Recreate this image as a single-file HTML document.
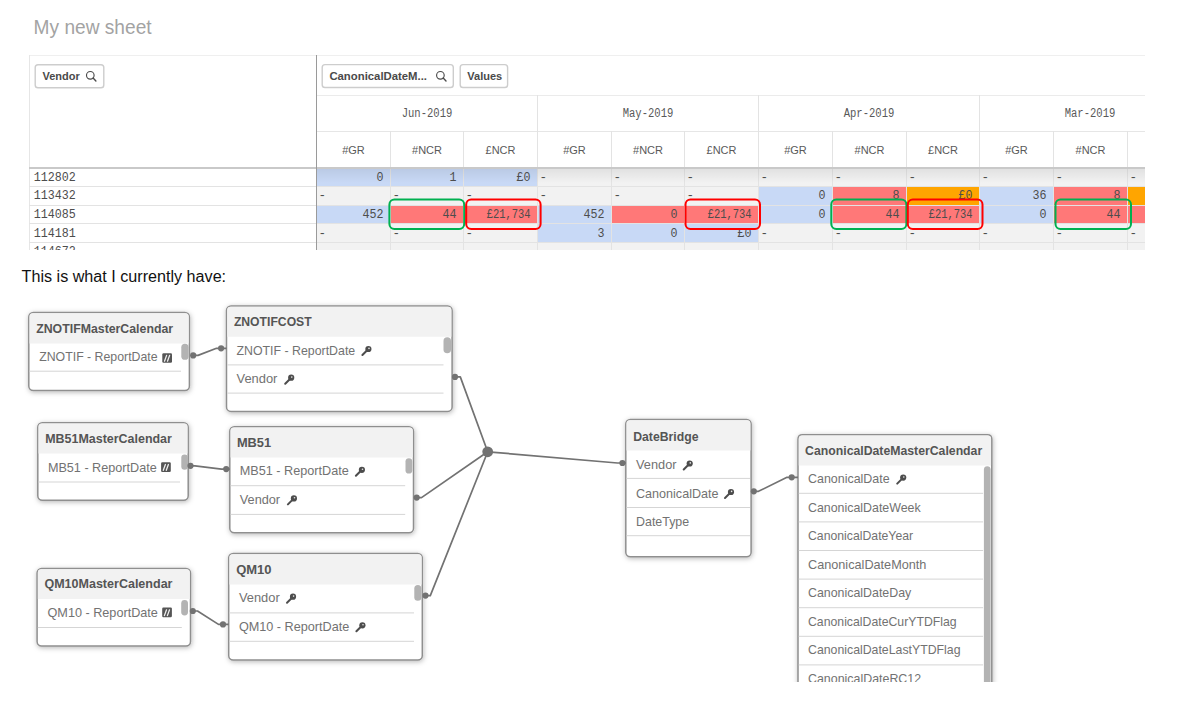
<!DOCTYPE html>
<html><head><meta charset="utf-8"><title>My new sheet</title>
<style>
html,body{margin:0;padding:0;background:#fff;}
body{width:1183px;height:709px;position:relative;overflow:hidden;font-family:"Liberation Sans", sans-serif;}
.t{position:absolute;white-space:nowrap;}
svg{position:absolute;left:0;top:0;}
</style></head>
<body>
<svg width="1183" height="709" viewBox="0 0 1183 709">
<text x="33.6" y="33.7" font-family='"Liberation Sans", sans-serif' font-size="20" fill="#a3a3a3" textLength="118" lengthAdjust="spacingAndGlyphs">My new sheet</text>
<defs><clipPath id="tc"><rect x="0" y="0" width="1145" height="250"/></clipPath></defs>
<g id="pivot" clip-path="url(#tc)">
<rect x="29" y="55" width="1116" height="1" fill="#efefef"/>
<rect x="29" y="55" width="1" height="195" fill="#e6e6e6"/>
<rect x="35.2" y="64.7" width="68.6" height="23.1" rx="2.8" fill="#fff" stroke="#cdcdcd" stroke-width="1.4"/>
<text x="42.5" y="79.8" font-family='"Liberation Sans", sans-serif' font-size="11" font-weight="bold" fill="#4a4a4a">Vendor</text>
<circle cx="90.3" cy="75.3" r="3.8" fill="none" stroke="#4a4a4a" stroke-width="1.15"/>
<line x1="93.1" y1="78.1" x2="95.89999999999999" y2="80.89999999999999" stroke="#4a4a4a" stroke-width="1.4" stroke-linecap="round"/>
<rect x="322.2" y="64.6" width="131.1" height="22.9" rx="2.8" fill="#fff" stroke="#cdcdcd" stroke-width="1.4"/>
<text x="329.4" y="79.7" font-family='"Liberation Sans", sans-serif' font-size="11" font-weight="bold" fill="#4a4a4a" textLength="97.6" lengthAdjust="spacingAndGlyphs">CanonicalDateM...</text>
<circle cx="440.4" cy="75.3" r="3.8" fill="none" stroke="#4a4a4a" stroke-width="1.15"/>
<line x1="443.2" y1="78.1" x2="446.0" y2="80.89999999999999" stroke="#4a4a4a" stroke-width="1.4" stroke-linecap="round"/>
<rect x="460.2" y="64.6" width="47.4" height="22.9" rx="2.8" fill="#fff" stroke="#cdcdcd" stroke-width="1.4"/>
<text x="467.3" y="79.7" font-family='"Liberation Sans", sans-serif' font-size="11" font-weight="bold" fill="#4a4a4a">Values</text>
<rect x="316" y="95" width="829" height="1" fill="#ebebeb"/>
<rect x="316" y="131" width="829" height="1" fill="#e6e6e6"/>
<rect x="317" y="169" width="828" height="81" fill="#f2f2f2"/>
<rect x="317" y="169" width="73" height="18" fill="#c8d9f6"/>
<rect x="391" y="169" width="72" height="18" fill="#c8d9f6"/>
<rect x="464" y="169" width="73" height="18" fill="#c8d9f6"/>
<rect x="759" y="187" width="73" height="19" fill="#c8d9f6"/>
<rect x="833" y="187" width="73" height="19" fill="#ff7878"/>
<rect x="907" y="187" width="72" height="19" fill="#ffa500"/>
<rect x="980" y="187" width="73" height="19" fill="#c8d9f6"/>
<rect x="1054" y="187" width="73" height="19" fill="#ff7878"/>
<rect x="1128" y="187" width="17" height="19" fill="#ffa500"/>
<rect x="317" y="206" width="73" height="18" fill="#c8d9f6"/>
<rect x="391" y="206" width="72" height="18" fill="#ff7878"/>
<rect x="464" y="206" width="73" height="18" fill="#ff7878"/>
<rect x="538" y="206" width="73" height="18" fill="#c8d9f6"/>
<rect x="612" y="206" width="72" height="18" fill="#ff7878"/>
<rect x="685" y="206" width="73" height="18" fill="#ff7878"/>
<rect x="759" y="206" width="73" height="18" fill="#c8d9f6"/>
<rect x="833" y="206" width="73" height="18" fill="#ff7878"/>
<rect x="907" y="206" width="72" height="18" fill="#ff7878"/>
<rect x="980" y="206" width="73" height="18" fill="#c8d9f6"/>
<rect x="1054" y="206" width="73" height="18" fill="#ff7878"/>
<rect x="1128" y="206" width="17" height="18" fill="#ff7878"/>
<rect x="538" y="224" width="73" height="19" fill="#c8d9f6"/>
<rect x="612" y="224" width="72" height="19" fill="#c8d9f6"/>
<rect x="685" y="224" width="73" height="19" fill="#c8d9f6"/>
<rect x="29" y="186" width="1116" height="1" fill="#e3e3e3"/>
<rect x="29" y="205" width="1116" height="1" fill="#e3e3e3"/>
<rect x="29" y="223" width="1116" height="1" fill="#e3e3e3"/>
<rect x="29" y="242" width="1116" height="1" fill="#e3e3e3"/>
<rect x="390" y="131" width="1" height="119" fill="#e3e3e3"/>
<rect x="463" y="131" width="1" height="119" fill="#e3e3e3"/>
<rect x="537" y="95" width="1" height="155" fill="#e3e3e3"/>
<rect x="611" y="131" width="1" height="119" fill="#e3e3e3"/>
<rect x="684" y="131" width="1" height="119" fill="#e3e3e3"/>
<rect x="758" y="95" width="1" height="155" fill="#e3e3e3"/>
<rect x="832" y="131" width="1" height="119" fill="#e3e3e3"/>
<rect x="906" y="131" width="1" height="119" fill="#e3e3e3"/>
<rect x="979" y="95" width="1" height="155" fill="#e3e3e3"/>
<rect x="1053" y="131" width="1" height="119" fill="#e3e3e3"/>
<rect x="1127" y="131" width="1" height="119" fill="#e3e3e3"/>
<defs><linearGradient id="sh" x1="0" y1="0" x2="0" y2="1"><stop offset="0" stop-color="#000" stop-opacity="0.07"/><stop offset="1" stop-color="#000" stop-opacity="0"/></linearGradient></defs>
<rect x="317" y="169" width="828" height="14" fill="url(#sh)"/>
<rect x="29" y="167" width="1116" height="2" fill="#c9c9c9"/>
<rect x="316" y="55" width="1" height="195" fill="#9a9a9a"/>
<text x="427.0" y="117" text-anchor="middle" font-family='"Liberation Mono", monospace' font-size="12" fill="#595959" textLength="50.6" lengthAdjust="spacingAndGlyphs">Jun-2019</text>
<text x="648.0" y="117" text-anchor="middle" font-family='"Liberation Mono", monospace' font-size="12" fill="#595959" textLength="50.6" lengthAdjust="spacingAndGlyphs">May-2019</text>
<text x="869.0" y="117" text-anchor="middle" font-family='"Liberation Mono", monospace' font-size="12" fill="#595959" textLength="50.6" lengthAdjust="spacingAndGlyphs">Apr-2019</text>
<text x="1090.0" y="117" text-anchor="middle" font-family='"Liberation Mono", monospace' font-size="12" fill="#595959" textLength="50.6" lengthAdjust="spacingAndGlyphs">Mar-2019</text>
<text x="353.5" y="154" text-anchor="middle" font-family='"Liberation Sans", sans-serif' font-size="11" fill="#595959">#GR</text>
<text x="427.0" y="154" text-anchor="middle" font-family='"Liberation Sans", sans-serif' font-size="11" fill="#595959">#NCR</text>
<text x="500.5" y="154" text-anchor="middle" font-family='"Liberation Sans", sans-serif' font-size="11" fill="#595959">£NCR</text>
<text x="574.5" y="154" text-anchor="middle" font-family='"Liberation Sans", sans-serif' font-size="11" fill="#595959">#GR</text>
<text x="648.0" y="154" text-anchor="middle" font-family='"Liberation Sans", sans-serif' font-size="11" fill="#595959">#NCR</text>
<text x="721.5" y="154" text-anchor="middle" font-family='"Liberation Sans", sans-serif' font-size="11" fill="#595959">£NCR</text>
<text x="795.5" y="154" text-anchor="middle" font-family='"Liberation Sans", sans-serif' font-size="11" fill="#595959">#GR</text>
<text x="869.5" y="154" text-anchor="middle" font-family='"Liberation Sans", sans-serif' font-size="11" fill="#595959">#NCR</text>
<text x="943.0" y="154" text-anchor="middle" font-family='"Liberation Sans", sans-serif' font-size="11" fill="#595959">£NCR</text>
<text x="1016.5" y="154" text-anchor="middle" font-family='"Liberation Sans", sans-serif' font-size="11" fill="#595959">#GR</text>
<text x="1090.5" y="154" text-anchor="middle" font-family='"Liberation Sans", sans-serif' font-size="11" fill="#595959">#NCR</text>
<text x="33.8" y="180.8" font-family='"Liberation Mono", monospace' font-size="12.6" fill="#4d4d4d" textLength="42.0" lengthAdjust="spacingAndGlyphs">112802</text>
<text x="383.6" y="180.8" text-anchor="end" font-family='"Liberation Mono", monospace' font-size="12.6" fill="#4d4d4d" textLength="7.0" lengthAdjust="spacingAndGlyphs">0</text>
<text x="456.6" y="180.8" text-anchor="end" font-family='"Liberation Mono", monospace' font-size="12.6" fill="#4d4d4d" textLength="7.0" lengthAdjust="spacingAndGlyphs">1</text>
<text x="530.6" y="180.8" text-anchor="end" font-family='"Liberation Mono", monospace' font-size="12.6" fill="#4d4d4d" textLength="14.0" lengthAdjust="spacingAndGlyphs">£0</text>
<text x="539.6" y="180.8" font-family='"Liberation Mono", monospace' font-size="12.6" fill="#4d4d4d">-</text>
<text x="613.6" y="180.8" font-family='"Liberation Mono", monospace' font-size="12.6" fill="#4d4d4d">-</text>
<text x="686.6" y="180.8" font-family='"Liberation Mono", monospace' font-size="12.6" fill="#4d4d4d">-</text>
<text x="760.6" y="180.8" font-family='"Liberation Mono", monospace' font-size="12.6" fill="#4d4d4d">-</text>
<text x="834.6" y="180.8" font-family='"Liberation Mono", monospace' font-size="12.6" fill="#4d4d4d">-</text>
<text x="908.6" y="180.8" font-family='"Liberation Mono", monospace' font-size="12.6" fill="#4d4d4d">-</text>
<text x="981.6" y="180.8" font-family='"Liberation Mono", monospace' font-size="12.6" fill="#4d4d4d">-</text>
<text x="1055.6" y="180.8" font-family='"Liberation Mono", monospace' font-size="12.6" fill="#4d4d4d">-</text>
<text x="1129.6" y="180.8" font-family='"Liberation Mono", monospace' font-size="12.6" fill="#4d4d4d">-</text>
<text x="33.8" y="199.4" font-family='"Liberation Mono", monospace' font-size="12.6" fill="#4d4d4d" textLength="42.0" lengthAdjust="spacingAndGlyphs">113432</text>
<text x="318.6" y="199.4" font-family='"Liberation Mono", monospace' font-size="12.6" fill="#4d4d4d">-</text>
<text x="392.6" y="199.4" font-family='"Liberation Mono", monospace' font-size="12.6" fill="#4d4d4d">-</text>
<text x="465.6" y="199.4" font-family='"Liberation Mono", monospace' font-size="12.6" fill="#4d4d4d">-</text>
<text x="539.6" y="199.4" font-family='"Liberation Mono", monospace' font-size="12.6" fill="#4d4d4d">-</text>
<text x="613.6" y="199.4" font-family='"Liberation Mono", monospace' font-size="12.6" fill="#4d4d4d">-</text>
<text x="686.6" y="199.4" font-family='"Liberation Mono", monospace' font-size="12.6" fill="#4d4d4d">-</text>
<text x="825.6" y="199.4" text-anchor="end" font-family='"Liberation Mono", monospace' font-size="12.6" fill="#4d4d4d" textLength="7.0" lengthAdjust="spacingAndGlyphs">0</text>
<text x="899.6" y="199.4" text-anchor="end" font-family='"Liberation Mono", monospace' font-size="12.6" fill="#4d4d4d" textLength="7.0" lengthAdjust="spacingAndGlyphs">8</text>
<text x="972.6" y="199.4" text-anchor="end" font-family='"Liberation Mono", monospace' font-size="12.6" fill="#4d4d4d" textLength="14.0" lengthAdjust="spacingAndGlyphs">£0</text>
<text x="1046.6" y="199.4" text-anchor="end" font-family='"Liberation Mono", monospace' font-size="12.6" fill="#4d4d4d" textLength="14.0" lengthAdjust="spacingAndGlyphs">36</text>
<text x="1120.6" y="199.4" text-anchor="end" font-family='"Liberation Mono", monospace' font-size="12.6" fill="#4d4d4d" textLength="7.0" lengthAdjust="spacingAndGlyphs">8</text>
<text x="33.8" y="218.0" font-family='"Liberation Mono", monospace' font-size="12.6" fill="#4d4d4d" textLength="42.0" lengthAdjust="spacingAndGlyphs">114085</text>
<text x="383.6" y="218.0" text-anchor="end" font-family='"Liberation Mono", monospace' font-size="12.6" fill="#4d4d4d" textLength="21.0" lengthAdjust="spacingAndGlyphs">452</text>
<text x="456.6" y="218.0" text-anchor="end" font-family='"Liberation Mono", monospace' font-size="12.6" fill="#4d4d4d" textLength="14.0" lengthAdjust="spacingAndGlyphs">44</text>
<text x="530.6" y="218.0" text-anchor="end" font-family='"Liberation Mono", monospace' font-size="12.6" fill="#4d4d4d" textLength="43.9" lengthAdjust="spacingAndGlyphs">£21,734</text>
<text x="604.6" y="218.0" text-anchor="end" font-family='"Liberation Mono", monospace' font-size="12.6" fill="#4d4d4d" textLength="21.0" lengthAdjust="spacingAndGlyphs">452</text>
<text x="677.6" y="218.0" text-anchor="end" font-family='"Liberation Mono", monospace' font-size="12.6" fill="#4d4d4d" textLength="7.0" lengthAdjust="spacingAndGlyphs">0</text>
<text x="751.6" y="218.0" text-anchor="end" font-family='"Liberation Mono", monospace' font-size="12.6" fill="#4d4d4d" textLength="43.9" lengthAdjust="spacingAndGlyphs">£21,734</text>
<text x="825.6" y="218.0" text-anchor="end" font-family='"Liberation Mono", monospace' font-size="12.6" fill="#4d4d4d" textLength="7.0" lengthAdjust="spacingAndGlyphs">0</text>
<text x="899.6" y="218.0" text-anchor="end" font-family='"Liberation Mono", monospace' font-size="12.6" fill="#4d4d4d" textLength="14.0" lengthAdjust="spacingAndGlyphs">44</text>
<text x="972.6" y="218.0" text-anchor="end" font-family='"Liberation Mono", monospace' font-size="12.6" fill="#4d4d4d" textLength="43.9" lengthAdjust="spacingAndGlyphs">£21,734</text>
<text x="1046.6" y="218.0" text-anchor="end" font-family='"Liberation Mono", monospace' font-size="12.6" fill="#4d4d4d" textLength="7.0" lengthAdjust="spacingAndGlyphs">0</text>
<text x="1120.6" y="218.0" text-anchor="end" font-family='"Liberation Mono", monospace' font-size="12.6" fill="#4d4d4d" textLength="14.0" lengthAdjust="spacingAndGlyphs">44</text>
<text x="33.8" y="236.6" font-family='"Liberation Mono", monospace' font-size="12.6" fill="#4d4d4d" textLength="42.0" lengthAdjust="spacingAndGlyphs">114181</text>
<text x="318.6" y="236.6" font-family='"Liberation Mono", monospace' font-size="12.6" fill="#4d4d4d">-</text>
<text x="392.6" y="236.6" font-family='"Liberation Mono", monospace' font-size="12.6" fill="#4d4d4d">-</text>
<text x="465.6" y="236.6" font-family='"Liberation Mono", monospace' font-size="12.6" fill="#4d4d4d">-</text>
<text x="604.6" y="236.6" text-anchor="end" font-family='"Liberation Mono", monospace' font-size="12.6" fill="#4d4d4d" textLength="7.0" lengthAdjust="spacingAndGlyphs">3</text>
<text x="677.6" y="236.6" text-anchor="end" font-family='"Liberation Mono", monospace' font-size="12.6" fill="#4d4d4d" textLength="7.0" lengthAdjust="spacingAndGlyphs">0</text>
<text x="751.6" y="236.6" text-anchor="end" font-family='"Liberation Mono", monospace' font-size="12.6" fill="#4d4d4d" textLength="14.0" lengthAdjust="spacingAndGlyphs">£0</text>
<text x="760.6" y="236.6" font-family='"Liberation Mono", monospace' font-size="12.6" fill="#4d4d4d">-</text>
<text x="834.6" y="236.6" font-family='"Liberation Mono", monospace' font-size="12.6" fill="#4d4d4d">-</text>
<text x="908.6" y="236.6" font-family='"Liberation Mono", monospace' font-size="12.6" fill="#4d4d4d">-</text>
<text x="981.6" y="236.6" font-family='"Liberation Mono", monospace' font-size="12.6" fill="#4d4d4d">-</text>
<text x="1055.6" y="236.6" font-family='"Liberation Mono", monospace' font-size="12.6" fill="#4d4d4d">-</text>
<text x="1129.6" y="236.6" font-family='"Liberation Mono", monospace' font-size="12.6" fill="#4d4d4d">-</text>
<text x="33.8" y="255.2" font-family='"Liberation Mono", monospace' font-size="12.6" fill="#4d4d4d" textLength="42.0" lengthAdjust="spacingAndGlyphs">114672</text>
<text x="318.6" y="255.2" font-family='"Liberation Mono", monospace' font-size="12.6" fill="#4d4d4d">-</text>
<text x="392.6" y="255.2" font-family='"Liberation Mono", monospace' font-size="12.6" fill="#4d4d4d">-</text>
<text x="465.6" y="255.2" font-family='"Liberation Mono", monospace' font-size="12.6" fill="#4d4d4d">-</text>
<text x="539.6" y="255.2" font-family='"Liberation Mono", monospace' font-size="12.6" fill="#4d4d4d">-</text>
<text x="613.6" y="255.2" font-family='"Liberation Mono", monospace' font-size="12.6" fill="#4d4d4d">-</text>
<text x="686.6" y="255.2" font-family='"Liberation Mono", monospace' font-size="12.6" fill="#4d4d4d">-</text>
<text x="760.6" y="255.2" font-family='"Liberation Mono", monospace' font-size="12.6" fill="#4d4d4d">-</text>
<text x="834.6" y="255.2" font-family='"Liberation Mono", monospace' font-size="12.6" fill="#4d4d4d">-</text>
<text x="908.6" y="255.2" font-family='"Liberation Mono", monospace' font-size="12.6" fill="#4d4d4d">-</text>
<text x="981.6" y="255.2" font-family='"Liberation Mono", monospace' font-size="12.6" fill="#4d4d4d">-</text>
<text x="1055.6" y="255.2" font-family='"Liberation Mono", monospace' font-size="12.6" fill="#4d4d4d">-</text>
<text x="1129.6" y="255.2" font-family='"Liberation Mono", monospace' font-size="12.6" fill="#4d4d4d">-</text>
<rect x="389.4" y="199.4" width="74.80000000000001" height="29.5" rx="5" fill="none" stroke="#00b050" stroke-width="2"/>
<rect x="466.2" y="199.4" width="74.40000000000003" height="29.5" rx="5" fill="none" stroke="#ff0000" stroke-width="2"/>
<rect x="685.5" y="199.4" width="74.5" height="29.5" rx="5" fill="none" stroke="#ff0000" stroke-width="2"/>
<rect x="831.3" y="199.4" width="75.10000000000002" height="29.5" rx="5" fill="none" stroke="#00b050" stroke-width="2"/>
<rect x="907.8" y="199.4" width="74.70000000000005" height="29.5" rx="5" fill="none" stroke="#ff0000" stroke-width="2"/>
<rect x="1055.5" y="199.4" width="75.5" height="29.5" rx="5" fill="none" stroke="#00b050" stroke-width="2"/>
</g>
<text x="21.6" y="281.8" font-family='"Liberation Sans", sans-serif' font-size="16" fill="#111" textLength="204.5" lengthAdjust="spacingAndGlyphs">This is what I currently have:</text>
<svg x="0" y="290" width="1183" height="392" viewBox="0 290 1183 392" overflow="hidden">
<g id="model">
<defs><filter id="ds" x="-20%" y="-20%" width="140%" height="140%"><feDropShadow dx="0.6" dy="1.2" stdDeviation="2.4" flood-color="#000" flood-opacity="0.28"/></filter></defs>
<rect x="28.8" y="312.5" width="160.60" height="78.00" rx="4.5" fill="#fff" stroke="#8f8f8f" stroke-width="1.5" filter="url(#ds)"/>
<path d="M29.55 343.4 V316.5 Q29.55 313.25 32.8 313.25 H185.4 Q188.65 313.25 188.65 316.5 V343.4 Z" fill="#f2f2f2"/>
<text x="36.2" y="333" font-family='"Liberation Sans", sans-serif' font-size="12" font-weight="bold" fill="#555" textLength="136.9" lengthAdjust="spacingAndGlyphs">ZNOTIFMasterCalendar</text>
<text x="39.199999999999996" y="361.3" font-family='"Liberation Sans", sans-serif' font-size="13" fill="#727272" textLength="118.4" lengthAdjust="spacingAndGlyphs">ZNOTIF - ReportDate</text>
<rect x="162.3" y="353.2" width="9.7" height="9.6" rx="1.2" fill="#555"/>
<path d="M164.5 361.2 L166.60000000000002 355.4 M167.5 361.2 L169.60000000000002 355.4" stroke="#f0f0f0" stroke-width="1.3" stroke-linecap="round"/>
<rect x="29.55" y="370.7" width="151.45" height="1" fill="#d5d5d5"/>
<rect x="181.3" y="343.7" width="7.299999999999983" height="16.100000000000023" rx="3.6499999999999915" fill="#b3b3b3"/>
<rect x="226.5" y="306" width="225.60" height="105.40" rx="4.5" fill="#fff" stroke="#8f8f8f" stroke-width="1.5" filter="url(#ds)"/>
<path d="M227.25 336.7 V310 Q227.25 306.75 230.5 306.75 H448.1 Q451.35 306.75 451.35 310 V336.7 Z" fill="#f2f2f2"/>
<text x="233.9" y="326.4" font-family='"Liberation Sans", sans-serif' font-size="12" font-weight="bold" fill="#555" textLength="77.8" lengthAdjust="spacingAndGlyphs">ZNOTIFCOST</text>
<text x="236.5" y="355" font-family='"Liberation Sans", sans-serif' font-size="13" fill="#727272" textLength="118.7" lengthAdjust="spacingAndGlyphs">ZNOTIF - ReportDate</text>
<g fill="#4d4d4d"><circle cx="368.4" cy="349.0" r="3.1"/><line x1="367.4" y1="350.0" x2="362.4" y2="355.0" stroke="#4d4d4d" stroke-width="2" stroke-linecap="round"/><circle cx="369.0" cy="348.4" r="0.8" fill="#e8e8e8"/></g>
<rect x="227.25" y="364.4" width="216.25" height="1" fill="#d5d5d5"/>
<text x="236.5" y="383.3" font-family='"Liberation Sans", sans-serif' font-size="13" fill="#727272" textLength="40.9" lengthAdjust="spacingAndGlyphs">Vendor</text>
<g fill="#4d4d4d"><circle cx="291.2" cy="377.7" r="3.1"/><line x1="290.2" y1="378.7" x2="285.2" y2="383.7" stroke="#4d4d4d" stroke-width="2" stroke-linecap="round"/><circle cx="291.8" cy="377.09999999999997" r="0.8" fill="#e8e8e8"/></g>
<rect x="227.25" y="392.6" width="216.25" height="1" fill="#d5d5d5"/>
<rect x="443.5" y="337.2" width="7.5" height="16.100000000000023" rx="3.75" fill="#b3b3b3"/>
<rect x="37.8" y="422.7" width="150.40" height="77.60" rx="4.5" fill="#fff" stroke="#8f8f8f" stroke-width="1.5" filter="url(#ds)"/>
<path d="M38.55 453.5 V426.7 Q38.55 423.45 41.8 423.45 H184.2 Q187.45 423.45 187.45 426.7 V453.5 Z" fill="#f2f2f2"/>
<text x="45.2" y="443.4" font-family='"Liberation Sans", sans-serif' font-size="12" font-weight="bold" fill="#555" textLength="126.7" lengthAdjust="spacingAndGlyphs">MB51MasterCalendar</text>
<text x="47.9" y="471.5" font-family='"Liberation Sans", sans-serif' font-size="13" fill="#727272" textLength="108.8" lengthAdjust="spacingAndGlyphs">MB51 - ReportDate</text>
<rect x="161.1" y="462.3" width="9.7" height="9.6" rx="1.2" fill="#555"/>
<path d="M163.29999999999998 470.3 L165.4 464.5 M166.29999999999998 470.3 L168.4 464.5" stroke="#f0f0f0" stroke-width="1.3" stroke-linecap="round"/>
<rect x="38.55" y="481.5" width="141.45" height="1" fill="#d5d5d5"/>
<rect x="181.3" y="454.4" width="6.599999999999994" height="15.300000000000011" rx="3.299999999999997" fill="#b3b3b3"/>
<rect x="229.8" y="426.7" width="183.70" height="106.00" rx="4.5" fill="#fff" stroke="#8f8f8f" stroke-width="1.5" filter="url(#ds)"/>
<path d="M230.55 457.6 V430.7 Q230.55 427.45 233.8 427.45 H409.5 Q412.75 427.45 412.75 430.7 V457.6 Z" fill="#f2f2f2"/>
<text x="236.9" y="447" font-family='"Liberation Sans", sans-serif' font-size="12" font-weight="bold" fill="#555" textLength="34.2" lengthAdjust="spacingAndGlyphs">MB51</text>
<text x="239.8" y="475.4" font-family='"Liberation Sans", sans-serif' font-size="13" fill="#727272" textLength="109.0" lengthAdjust="spacingAndGlyphs">MB51 - ReportDate</text>
<g fill="#4d4d4d"><circle cx="361.9" cy="469.8" r="3.1"/><line x1="360.9" y1="470.8" x2="355.9" y2="475.8" stroke="#4d4d4d" stroke-width="2" stroke-linecap="round"/><circle cx="362.5" cy="469.2" r="0.8" fill="#e8e8e8"/></g>
<rect x="230.55" y="485.2" width="174.65" height="1" fill="#d5d5d5"/>
<text x="239.8" y="504" font-family='"Liberation Sans", sans-serif' font-size="13" fill="#727272" textLength="40.3" lengthAdjust="spacingAndGlyphs">Vendor</text>
<g fill="#4d4d4d"><circle cx="293.9" cy="498.4" r="3.1"/><line x1="292.9" y1="499.4" x2="287.9" y2="504.4" stroke="#4d4d4d" stroke-width="2" stroke-linecap="round"/><circle cx="294.5" cy="497.79999999999995" r="0.8" fill="#e8e8e8"/></g>
<rect x="230.55" y="513.9" width="174.65" height="1" fill="#d5d5d5"/>
<rect x="405.5" y="458.2" width="6.800000000000011" height="15.400000000000034" rx="3.4000000000000057" fill="#b3b3b3"/>
<rect x="37.1" y="568.5" width="153.40" height="77.60" rx="4.5" fill="#fff" stroke="#8f8f8f" stroke-width="1.5" filter="url(#ds)"/>
<path d="M37.85 599 V572.5 Q37.85 569.25 41.1 569.25 H186.5 Q189.75 569.25 189.75 572.5 V599 Z" fill="#f2f2f2"/>
<text x="44.4" y="588.4" font-family='"Liberation Sans", sans-serif' font-size="12" font-weight="bold" fill="#555" textLength="128.1" lengthAdjust="spacingAndGlyphs">QM10MasterCalendar</text>
<text x="47.5" y="616.8" font-family='"Liberation Sans", sans-serif' font-size="13" fill="#727272" textLength="110.4" lengthAdjust="spacingAndGlyphs">QM10 - ReportDate</text>
<rect x="162.2" y="607.6" width="9.7" height="9.6" rx="1.2" fill="#555"/>
<path d="M164.39999999999998 615.6 L166.5 609.8000000000001 M167.39999999999998 615.6 L169.5 609.8000000000001" stroke="#f0f0f0" stroke-width="1.3" stroke-linecap="round"/>
<rect x="37.85" y="627.0" width="143.95" height="1" fill="#d5d5d5"/>
<rect x="181.2" y="600" width="6.800000000000011" height="15.399999999999977" rx="3.4000000000000057" fill="#b3b3b3"/>
<rect x="228.7" y="553.4" width="193.60" height="106.60" rx="4.5" fill="#fff" stroke="#8f8f8f" stroke-width="1.5" filter="url(#ds)"/>
<path d="M229.45 584.4 V557.4 Q229.45 554.15 232.7 554.15 H418.3 Q421.55 554.15 421.55 557.4 V584.4 Z" fill="#f2f2f2"/>
<text x="236.2" y="573.8" font-family='"Liberation Sans", sans-serif' font-size="12" font-weight="bold" fill="#555" textLength="35.4" lengthAdjust="spacingAndGlyphs">QM10</text>
<text x="238.9" y="602.3" font-family='"Liberation Sans", sans-serif' font-size="13" fill="#727272" textLength="40.8" lengthAdjust="spacingAndGlyphs">Vendor</text>
<g fill="#4d4d4d"><circle cx="293" cy="596.7" r="3.1"/><line x1="292" y1="597.7" x2="287" y2="602.7" stroke="#4d4d4d" stroke-width="2" stroke-linecap="round"/><circle cx="293.6" cy="596.1" r="0.8" fill="#e8e8e8"/></g>
<rect x="229.45" y="612.4" width="184.55" height="1" fill="#d5d5d5"/>
<text x="238.9" y="630.9" font-family='"Liberation Sans", sans-serif' font-size="13" fill="#727272" textLength="110.4" lengthAdjust="spacingAndGlyphs">QM10 - ReportDate</text>
<g fill="#4d4d4d"><circle cx="362.4" cy="625.3000000000001" r="3.1"/><line x1="361.4" y1="626.3000000000001" x2="356.4" y2="631.3000000000001" stroke="#4d4d4d" stroke-width="2" stroke-linecap="round"/><circle cx="363.0" cy="624.7" r="0.8" fill="#e8e8e8"/></g>
<rect x="229.45" y="640.8" width="184.55" height="1" fill="#d5d5d5"/>
<rect x="414.3" y="585" width="7.099999999999966" height="15.799999999999955" rx="3.549999999999983" fill="#b3b3b3"/>
<rect x="625.8" y="419.5" width="125.30" height="137.20" rx="4.5" fill="#fff" stroke="#8f8f8f" stroke-width="1.5" filter="url(#ds)"/>
<path d="M626.55 450.6 V423.5 Q626.55 420.25 629.8 420.25 H747.1 Q750.35 420.25 750.35 423.5 V450.6 Z" fill="#f2f2f2"/>
<text x="633.2" y="440.5" font-family='"Liberation Sans", sans-serif' font-size="12" font-weight="bold" fill="#555" textLength="65.3" lengthAdjust="spacingAndGlyphs">DateBridge</text>
<text x="636.0" y="469.1" font-family='"Liberation Sans", sans-serif' font-size="13" fill="#727272" textLength="40.5" lengthAdjust="spacingAndGlyphs">Vendor</text>
<g fill="#4d4d4d"><circle cx="689.7" cy="463.5" r="3.1"/><line x1="688.7" y1="464.5" x2="683.7" y2="469.5" stroke="#4d4d4d" stroke-width="2" stroke-linecap="round"/><circle cx="690.3000000000001" cy="462.9" r="0.8" fill="#e8e8e8"/></g>
<rect x="626.55" y="477.9" width="123.45" height="1" fill="#d5d5d5"/>
<text x="636.0" y="497.6" font-family='"Liberation Sans", sans-serif' font-size="13" fill="#727272" textLength="82.5" lengthAdjust="spacingAndGlyphs">CanonicalDate</text>
<g fill="#4d4d4d"><circle cx="731" cy="492.0" r="3.1"/><line x1="730" y1="493.0" x2="725" y2="498.0" stroke="#4d4d4d" stroke-width="2" stroke-linecap="round"/><circle cx="731.6" cy="491.4" r="0.8" fill="#e8e8e8"/></g>
<rect x="626.55" y="507.0" width="123.45" height="1" fill="#d5d5d5"/>
<text x="636.0" y="526.3" font-family='"Liberation Sans", sans-serif' font-size="13" fill="#727272" textLength="53.2" lengthAdjust="spacingAndGlyphs">DateType</text>
<rect x="626.55" y="535.2" width="123.45" height="1" fill="#d5d5d5"/>
<path d="M798 700 V439.3 Q798 434.8 802.5 434.8 H987.3 Q991.8 434.8 991.8 439.3 V700" fill="#fff" stroke="#8f8f8f" stroke-width="1.5" filter="url(#ds)"/>
<path d="M798.75 465.5 V438.8 Q798.75 435.55 802 435.55 H987.8 Q991.05 435.55 991.05 438.8 V465.5 Z" fill="#f2f2f2"/>
<text x="805.1" y="454.8" font-family='"Liberation Sans", sans-serif' font-size="12" font-weight="bold" fill="#555" textLength="177.1" lengthAdjust="spacingAndGlyphs">CanonicalDateMasterCalendar</text>
<text x="808.0" y="483.2" font-family='"Liberation Sans", sans-serif' font-size="13" fill="#727272" textLength="81.6" lengthAdjust="spacingAndGlyphs">CanonicalDate</text>
<g fill="#4d4d4d"><circle cx="903.2" cy="477.59999999999997" r="3.1"/><line x1="902.2" y1="478.59999999999997" x2="897.2" y2="483.59999999999997" stroke="#4d4d4d" stroke-width="2" stroke-linecap="round"/><circle cx="903.8000000000001" cy="476.99999999999994" r="0.8" fill="#e8e8e8"/></g>
<rect x="798.75" y="492.8" width="184.35" height="1" fill="#d5d5d5"/>
<text x="808.0" y="511.7" font-family='"Liberation Sans", sans-serif' font-size="13" fill="#727272" textLength="112.7" lengthAdjust="spacingAndGlyphs">CanonicalDateWeek</text>
<rect x="798.75" y="521.4" width="184.35" height="1" fill="#d5d5d5"/>
<text x="808.0" y="540.2" font-family='"Liberation Sans", sans-serif' font-size="13" fill="#727272" textLength="105.1" lengthAdjust="spacingAndGlyphs">CanonicalDateYear</text>
<rect x="798.75" y="550.0" width="184.35" height="1" fill="#d5d5d5"/>
<text x="808.0" y="568.7" font-family='"Liberation Sans", sans-serif' font-size="13" fill="#727272" textLength="118.4" lengthAdjust="spacingAndGlyphs">CanonicalDateMonth</text>
<rect x="798.75" y="578.6" width="184.35" height="1" fill="#d5d5d5"/>
<text x="808.0" y="597.2" font-family='"Liberation Sans", sans-serif' font-size="13" fill="#727272" textLength="103.3" lengthAdjust="spacingAndGlyphs">CanonicalDateDay</text>
<rect x="798.75" y="607.2" width="184.35" height="1" fill="#d5d5d5"/>
<text x="808.0" y="625.7" font-family='"Liberation Sans", sans-serif' font-size="13" fill="#727272" textLength="148.6" lengthAdjust="spacingAndGlyphs">CanonicalDateCurYTDFlag</text>
<rect x="798.75" y="635.8" width="184.35" height="1" fill="#d5d5d5"/>
<text x="808.0" y="654.2" font-family='"Liberation Sans", sans-serif' font-size="13" fill="#727272" textLength="152.5" lengthAdjust="spacingAndGlyphs">CanonicalDateLastYTDFlag</text>
<rect x="798.75" y="664.4" width="184.35" height="1" fill="#d5d5d5"/>
<text x="808.0" y="682.7" font-family='"Liberation Sans", sans-serif' font-size="13" fill="#727272" textLength="113.1" lengthAdjust="spacingAndGlyphs">CanonicalDateRC12</text>
<rect x="798.75" y="693.0" width="184.35" height="1" fill="#d5d5d5"/>
<rect x="983.9" y="466.2" width="6.7000000000000455" height="233.8" rx="3.3500000000000227" fill="#b3b3b3"/>
<path d="M193.2 355.4 L198.0 355.4 L216.5 348.3 L226.5 348.3" fill="none" stroke="#727272" stroke-width="1.7" stroke-linejoin="round"/>
<circle cx="193.2" cy="355.4" r="3.1" fill="#727272"/>
<circle cx="221.1" cy="348.3" r="3.1" fill="#727272"/>
<path d="M190.5 465.8 L195.0 465.8 L221.5 469.1 L229.8 469.1" fill="none" stroke="#727272" stroke-width="1.7" stroke-linejoin="round"/>
<circle cx="190.5" cy="465.8" r="3.1" fill="#727272"/>
<circle cx="226.2" cy="469.1" r="3.1" fill="#727272"/>
<path d="M192.8 611.0 L197.5 611.0 L218.5 624.4 L228.7 624.4" fill="none" stroke="#727272" stroke-width="1.7" stroke-linejoin="round"/>
<circle cx="192.8" cy="611" r="3.1" fill="#727272"/>
<circle cx="223" cy="624.4" r="3.1" fill="#727272"/>
<path d="M455.0 376.9 L460.3 376.9 L487.7 451.8" fill="none" stroke="#727272" stroke-width="1.7" stroke-linejoin="round"/>
<circle cx="455" cy="376.9" r="3.1" fill="#727272"/>
<path d="M416.7 497.6 L421.5 497.6 L487.7 451.8" fill="none" stroke="#727272" stroke-width="1.7" stroke-linejoin="round"/>
<circle cx="416.7" cy="497.6" r="3.1" fill="#727272"/>
<path d="M425.5 595.6 L430.3 595.6 L487.7 451.8" fill="none" stroke="#727272" stroke-width="1.7" stroke-linejoin="round"/>
<circle cx="425.5" cy="595.6" r="3.1" fill="#727272"/>
<path d="M487.7 451.8 L617.5 463.0 L625.8 463.0" fill="none" stroke="#727272" stroke-width="1.7" stroke-linejoin="round"/>
<circle cx="622.4" cy="463" r="3.1" fill="#727272"/>
<circle cx="487.7" cy="451.8" r="5.4" fill="#727272"/>
<path d="M753.8 491.3 L758.5 491.3 L787.0 477.3 L798.0 477.3" fill="none" stroke="#727272" stroke-width="1.7" stroke-linejoin="round"/>
<circle cx="753.8" cy="491.3" r="3.1" fill="#727272"/>
<circle cx="791.7" cy="477.3" r="3.1" fill="#727272"/>
</g>
</svg>
</svg>
</body></html>
